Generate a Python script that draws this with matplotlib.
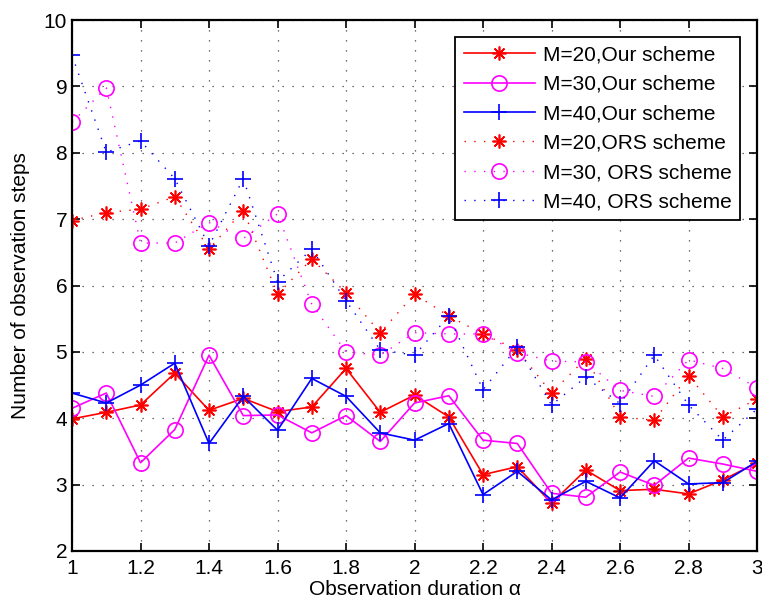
import numpy as np
import matplotlib.pyplot as plt

plt.rcParams['font.family'] = ['Liberation Sans', 'DejaVu Sans']

alpha = [1.0, 1.1, 1.2, 1.3, 1.4, 1.5, 1.6, 1.7, 1.8, 1.9, 2.0,
         2.1, 2.2, 2.3, 2.4, 2.5, 2.6, 2.7, 2.8, 2.9, 3.0]

# our scheme
our_m20 = [3.99, 4.09, 4.20, 4.68, 4.12, 4.30, 4.10, 4.17, 4.75, 4.09, 4.35,
           4.02, 3.15, 3.27, 2.72, 3.22, 2.91, 2.93, 2.86, 3.07, 3.33]
our_m30 = [4.15, 4.38, 3.33, 3.83, 4.95, 4.04, 4.05, 3.78, 4.04, 3.65, 4.23,
           4.34, 3.67, 3.62, 2.87, 2.81, 3.19, 2.99, 3.40, 3.31, 3.20]
our_m40 = [4.38, 4.23, 4.50, 4.83, 3.62, 4.33, 3.82, 4.60, 4.33, 3.78, 3.67,
           3.92, 2.85, 3.20, 2.77, 3.05, 2.80, 3.36, 3.01, 3.03, 3.35]

# ORS scheme
ors_m20 = [6.98, 7.10, 7.15, 7.34, 6.55, 7.13, 5.87, 6.40, 5.89, 5.29, 5.87,
           5.54, 5.27, 5.03, 4.38, 4.90, 4.02, 3.97, 4.64, 4.02, 4.29]
ors_m30 = [8.46, 8.98, 6.64, 6.64, 6.95, 6.71, 7.08, 5.72, 5.00, 4.95, 5.29,
           5.27, 5.27, 4.99, 4.86, 4.85, 4.42, 4.33, 4.88, 4.75, 4.46]
ors_m40 = [9.47, 8.01, 8.18, 7.61, 6.60, 7.61, 6.06, 6.55, 5.77, 5.03, 4.95,
           5.54, 4.43, 5.07, 4.20, 4.62, 4.22, 4.95, 4.20, 3.67, 4.14]

labels = ['M=20,Our scheme', 'M=30,Our scheme', 'M=40,Our scheme',
          'M=20,ORS scheme', 'M=30, ORS scheme', 'M=40, ORS scheme']

red = '#ff0000'
mag = '#ff00ff'
blue = '#0000ff'
star = (8, 2, 0)      # matlab-like asterisk
dots = (0, (1, 6))

fig = plt.figure(figsize=(7.62, 6.06), dpi=100)
ax = fig.add_axes([0.0945, 0.0908, 0.899, 0.876])

ax.plot(alpha, our_m20, '-', color=red, marker=star, ms=10, mew=1.2, lw=1.2, label=labels[0])
ax.plot(alpha, our_m30, '-', color=mag, marker='o', ms=11, mfc='none', mew=1.2, lw=1.2, label=labels[1])
ax.plot(alpha, our_m40, '-', color=blue, marker='+', ms=12, mew=1.2, lw=1.2, label=labels[2])
ax.plot(alpha, ors_m20, linestyle=dots, color=red, marker=star, ms=10, mew=1.2, lw=1.0, label=labels[3])
ax.plot(alpha, ors_m30, linestyle=dots, color=mag, marker='o', ms=11, mfc='none', mew=1.2, lw=1.0, label=labels[4])
ax.plot(alpha, ors_m40, linestyle=dots, color=blue, marker='+', ms=12, mew=1.2, lw=1.0, label=labels[5])

ax.set_xlim(1, 3)
ax.set_ylim(2, 10)
ax.set_xticks(np.arange(1, 3.01, 0.2))
ax.set_xticklabels(['1', '1.2', '1.4', '1.6', '1.8', '2', '2.2', '2.4', '2.6', '2.8', '3'])
ax.set_yticks(range(2, 11))

ax.grid(True, linestyle=(0, (1, 7)), color='#404040', lw=0.9)
ax.tick_params(direction='in', top=True, right=True, labelsize=15, length=6, width=1.2)
ax.tick_params(axis='x', pad=6)
for s in ax.spines.values():
    s.set_linewidth(1.6)

ax.set_xlabel('Observation duration α', fontsize=15, labelpad=1)
ax.set_ylabel('Number of observation steps', fontsize=15, labelpad=10)

leg = ax.legend(loc='upper right', bbox_to_anchor=(0.975, 0.968), borderaxespad=0,
                fontsize=15, fancybox=False, edgecolor='black', framealpha=1,
                handlelength=3.4, borderpad=0.4, labelspacing=0.5, handletextpad=0.4)
leg.get_frame().set_linewidth(1.3)

fig.savefig('out.png', dpi=100)
